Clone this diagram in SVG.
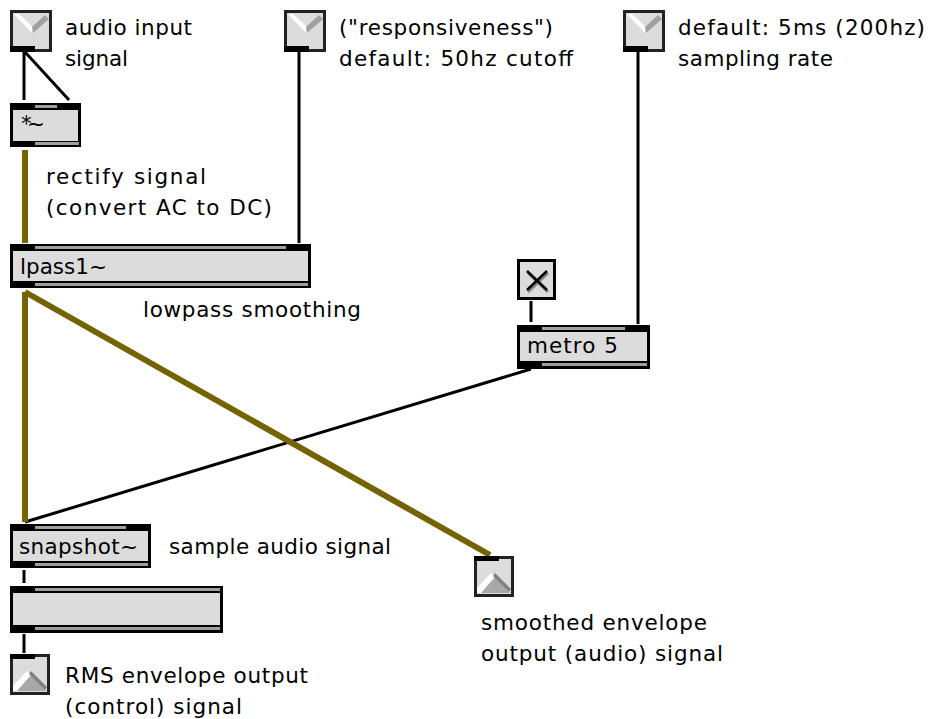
<svg xmlns="http://www.w3.org/2000/svg" width="932" height="719" viewBox="0 0 932 719">
<style>
.t{font-family:"DejaVu Sans",Verdana,sans-serif;font-size:21.500px;fill:#000}
.b{fill:#dcdcdc;stroke:#000;stroke-width:3}
.f{fill:#dcdcdc;stroke:#222;stroke-width:3}
.g{fill:#a0a0a0}
.k{fill:#000}
.c{stroke:#000;stroke-width:3;fill:none}
.s{stroke:#746300;stroke-width:6;fill:none}
</style>
<defs>
<g id="inlet">
<rect class="f" x="11.500" y="11.500" width="39" height="39"/>
<polygon points="14,14 19,14 33,27 32,33" fill="#fff"/>
<polygon points="32,27 45,15 49,19 33,33" fill="#a0a0a0"/>
<rect class="k" x="10" y="46" width="25" height="6"/>
</g>
<g id="outlet">
<rect class="f" x="11.500" y="655.500" width="37" height="38"/>
<rect class="k" x="10" y="654" width="25" height="5"/>
<polygon points="13,691 29,673 46,691" fill="#a8a8a8"/>
<polygon points="13,686 27,671 31,675 17,691 13,691" fill="#fff"/>
<polygon points="31,671 47,687 45,690 29,674" fill="#808080"/>
</g>
</defs>
<g id="connectors">
<path class="c" d="M24 52V100M25 52L69 100M299 52V243M638 52V324M531 301V322M531 369L25 522M24 570V583M24 634V653"/>
<path class="s" d="M25 150V243M25 292V522M25 292L490 555"/>
</g>
<g id="in1"><use href="#inlet"/></g>
<g id="in2"><use href="#inlet" x="274"/></g>
<g id="in3"><use href="#inlet" x="613"/></g>
<g id="mul">
<rect class="b" x="11.500" y="104.500" width="68" height="41"/>
<rect class="k" x="10" y="103" width="71" height="7"/><rect class="g" x="35" y="105" width="22" height="3"/>
<rect class="k" x="10" y="141" width="71" height="6"/><rect class="g" x="35" y="142" width="44" height="3"/>
<text class="t" x="21" y="131" textLength="24">*~</text>
</g>
<g id="lpass">
<rect class="b" x="11.500" y="245.500" width="298" height="41"/>
<rect class="k" x="10" y="244" width="300" height="7"/><rect class="g" x="35" y="246" width="251" height="3"/>
<rect class="k" x="10" y="281" width="300" height="7"/><rect class="g" x="35" y="283" width="273" height="3"/>
<text class="t" x="20" y="274" textLength="87">lpass1~</text>
</g>
<g id="toggle">
<rect class="b" x="518.500" y="260.500" width="36" height="38"/>
<path d="M528 273L548 292M548 273L528 292" stroke="#888" stroke-width="3"/>
<path d="M527 271L547 290M547 271L527 290" stroke="#000" stroke-width="2.500"/>
</g>
<g id="metro">
<rect class="b" x="518.500" y="326.500" width="130" height="41"/>
<rect class="k" x="517" y="325" width="132" height="7"/><rect class="g" x="542" y="327" width="83" height="3"/>
<rect class="k" x="517" y="361" width="132" height="7"/><rect class="g" x="542" y="363" width="105" height="3"/>
<text class="t" x="527" y="353" textLength="91">metro 5</text>
</g>
<g id="snapshot">
<rect class="b" x="11.500" y="525.500" width="138" height="41"/>
<rect class="k" x="10" y="524" width="140" height="7"/><rect class="g" x="35" y="526" width="91" height="3"/>
<rect class="k" x="10" y="561" width="140" height="7"/><rect class="g" x="35" y="563" width="113" height="3"/>
<text class="t" x="19" y="554" textLength="119">snapshot~</text>
</g>
<g id="number">
<rect class="b" x="11.500" y="587.500" width="210" height="44"/>
<rect class="k" x="10" y="586" width="212" height="7"/><rect class="g" x="35" y="588" width="185" height="3"/>
<rect class="k" x="10" y="625" width="212" height="8"/><rect class="g" x="35" y="627" width="185" height="3"/>
</g>
<g id="out1"><use href="#outlet"/></g>
<g id="out2"><use href="#outlet" x="464" y="-98"/></g>
<g id="labels">
<text class="t" x="65" y="35" textLength="127">audio input</text><text class="t" x="65" y="66" textLength="63">signal</text>
<text class="t" x="339" y="35" textLength="214">("responsiveness")</text><text class="t" x="339" y="66" textLength="234">default: 50hz cutoff</text>
<text class="t" x="678" y="35" textLength="247">default: 5ms (200hz)</text><text class="t" x="678" y="66" textLength="155">sampling rate</text>
<text class="t" x="46" y="184" textLength="160">rectify signal</text><text class="t" x="46" y="215" textLength="226">(convert AC to DC)</text>
<text class="t" x="143" y="317" textLength="218">lowpass smoothing</text>
<text class="t" x="169" y="554" textLength="222">sample audio signal</text>
<text class="t" x="481" y="630" textLength="226">smoothed envelope</text><text class="t" x="481" y="661" textLength="242">output (audio) signal</text>
<text class="t" x="65" y="683" textLength="243">RMS envelope output</text><text class="t" x="65" y="714" textLength="177">(control) signal</text>
</g>
</svg>
